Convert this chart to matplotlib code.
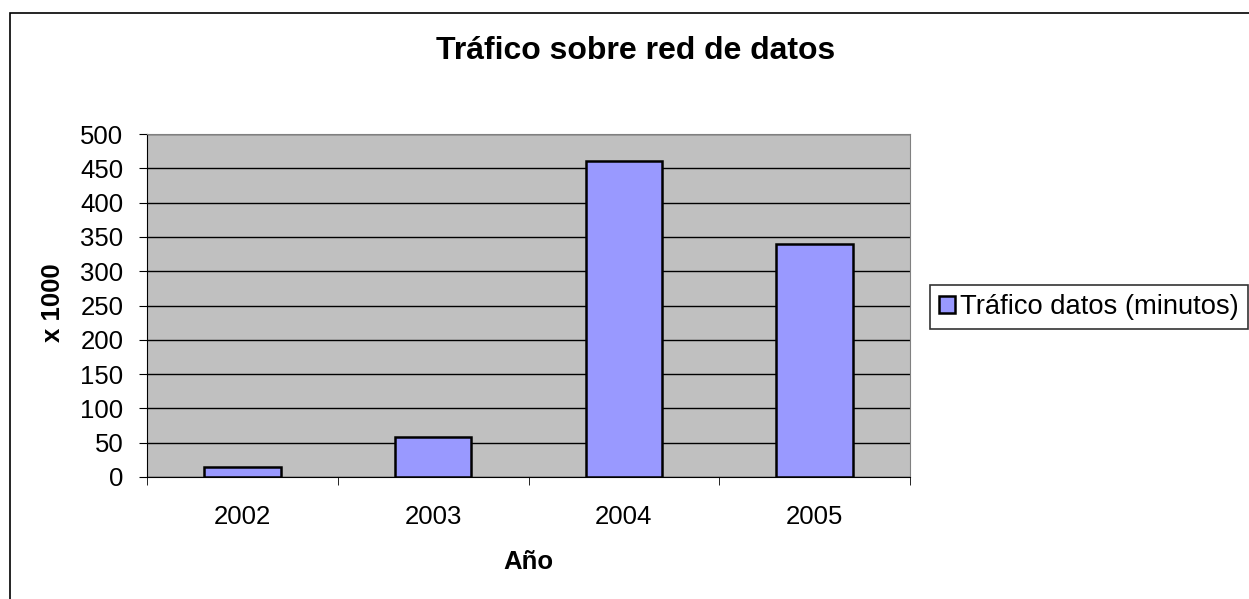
import matplotlib.pyplot as plt
from matplotlib.patches import Rectangle
import numpy as np

plt.rcParams['font.family'] = ['Liberation Sans', 'DejaVu Sans']

years = ["2002", "2003", "2004", "2005"]
trafico = [14, 58, 460, 340]
serie = "Tráfico datos (minutos)"

W, H = 1249, 599
fig = plt.figure(figsize=(W / 100, H / 100), dpi=100)

# outer chart frame (runs off the right and bottom edges)
fig.patches.append(Rectangle((10 / W, -0.05), 1.1, 1 - 13 / H + 0.05,
                             transform=fig.transFigure, fill=False,
                             edgecolor='black', linewidth=1.2, clip_on=False))

ax = fig.add_axes([147 / W, 1 - 477 / H, (910 - 147) / W, (477 - 134) / H])
ax.set_facecolor('#c0c0c0')

x = np.arange(len(years))
ax.bar(x, trafico, width=0.4, color='#9999ff', edgecolor='black',
       linewidth=1.8, label=serie, zorder=3)

ax.set_xlim(-0.5, len(years) - 0.5)
ax.set_ylim(0, 500)
ax.set_yticks(range(0, 501, 50))
ax.yaxis.grid(True, color='black', linewidth=1, zorder=1)
ax.set_axisbelow(True)

ax.set_xticks(x)
ax.set_xticklabels(years)
ax.set_xticks(np.arange(-0.5, len(years)), minor=True)
ax.tick_params(axis='x', which='major', length=0, pad=20, labelsize=18.5)
ax.tick_params(axis='x', which='minor', length=6, direction='out')
ax.tick_params(axis='y', length=6, direction='out', labelsize=18.5, pad=11)

for s in ['top', 'right']:
    ax.spines[s].set_color('#808080')
ax.spines['left'].set_color('black')
ax.spines['bottom'].set_color('black')

fig.text(528 / W, 1 - 562 / H, "Año", ha='center', va='center',
         fontsize=18.5, fontweight='bold')
fig.text(53 / W, 1 - 303 / H, "x 1000", ha='center', va='center',
         rotation=90, fontsize=18.5, fontweight='bold')

fig.text(636 / W, 1 - 51 / H, "Tráfico sobre red de datos",
         ha='center', va='center', fontsize=23, fontweight='bold')

leg = ax.legend(loc='upper left', bbox_to_anchor=(930 / W, 1 - 285 / H),
                bbox_transform=fig.transFigure, fontsize=19.7, frameon=True,
                fancybox=False, edgecolor='black', handlelength=0.58,
                handleheight=0.58, handletextpad=0.2, borderpad=0.33,
                borderaxespad=0)
leg.get_frame().set_linewidth(1.2)

fig.savefig("out.png", dpi=100)
